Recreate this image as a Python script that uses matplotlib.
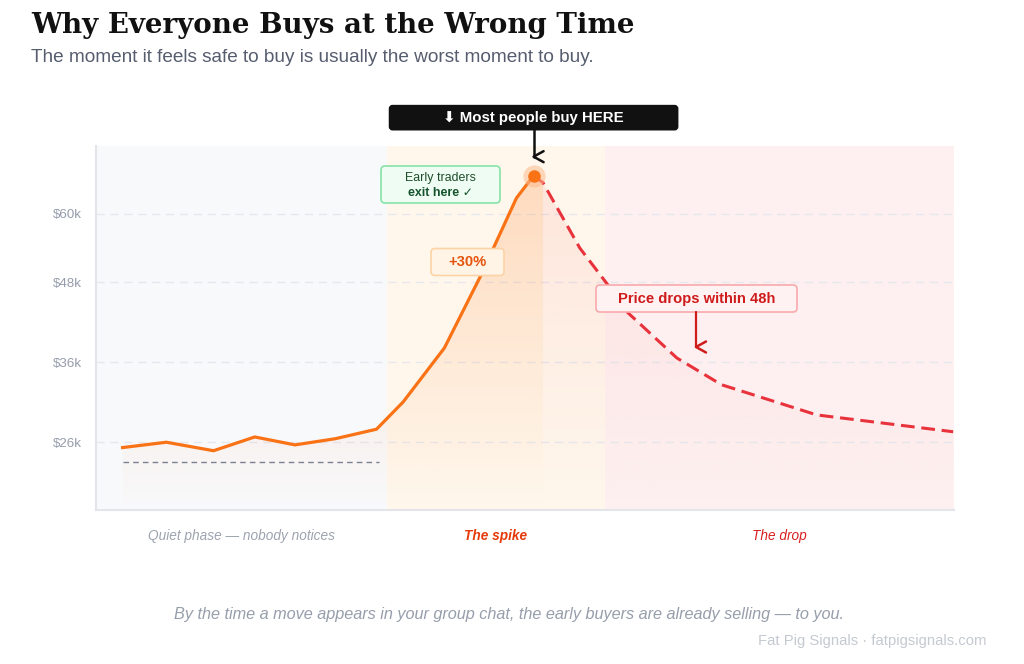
import numpy as np
import matplotlib
matplotlib.use("Agg")
import matplotlib.pyplot as plt
from matplotlib.patches import FancyBboxPatch, Polygon
from matplotlib.transforms import IdentityTransform
from matplotlib.colors import to_rgb

plt.rcParams['font.family'] = ['Liberation Sans', 'DejaVu Sans']

# time runs 0..100 across the chart, price in $k
rise_t = [3.1, 8.2, 13.7, 18.5, 23.2, 27.9, 32.7, 35.8, 40.6, 44.8, 49.0, 51.0]
rise_k = [25.4, 26.0, 25.05, 26.6, 25.7, 26.4, 27.5, 30.8, 38.0, 49.0, 63.0, 67.4]
drop_t = [51.0, 52.1, 56.4, 59.5, 62.0, 67.7, 72.9, 84.0, 99.9]
drop_k = [67.4, 66.0, 53.8, 47.9, 43.2, 36.6, 33.0, 29.2, 27.2]
base_t = [3.1, 33.0]
base_k = 23.85

phase_names = ['Quiet phase \u2014 nobody notices', 'The spike', 'The drop']
phase_edges = [0, 33.9, 59.3, 100]
yticks = [26, 36, 48, 60]
ytick_labels = ['$26k', '$36k', '$48k', '$60k']

W, H = 1024, 664
Y_MIN, Y_MAX = 19.0, 73.5
ORANGE = '#f97316'
RED = '#e8333c'

fig = plt.figure(figsize=(W / 100, H / 100), dpi=100)
ax = fig.add_axes([96 / W, 1 - 510 / H, (954 - 96) / W, (510 - 146) / H])
ax.set_yscale('function', functions=(lambda v: np.power(np.clip(v, 0, None), 0.4),
                                     lambda u: np.power(np.clip(u, 0, None), 2.5)))

# phase bands
band_cols = ['#f8f9fb', '#fff7ec', '#fef0f0']
for i in range(3):
    ax.axvspan(phase_edges[i], phase_edges[i + 1], color=band_cols[i], lw=0, zorder=0)


def gradient_under(t, k, color, a_top, a_bot, z):
    verts = [(t[0], Y_MIN)] + list(zip(t, k)) + [(t[-1], Y_MIN)]
    clip = Polygon(verts, closed=True, transform=ax.transData, fc='none', ec='none')
    ax.add_patch(clip)
    grad = np.zeros((256, 1, 4))
    grad[..., :3] = to_rgb(color)
    grad[..., 3] = np.linspace(a_bot, a_top, 256)[:, None]
    im = ax.imshow(grad, aspect='auto', extent=[0, 1, 0, 1], origin='lower',
                   transform=ax.transAxes, zorder=z, interpolation='bilinear')
    im.set_clip_path(clip)


gradient_under(rise_t + drop_t[1:2], rise_k + drop_k[1:2], '#fb8a3c', 0.28, 0.0, 1)
gradient_under(drop_t[1:], drop_k[1:], '#f87171', 0.14, 0.0, 1)

ax.plot(base_t, [base_k, base_k], color='#7b8190', lw=1, ls=(0, (4, 3)), zorder=2)
ax.plot(rise_t, rise_k, color=ORANGE, lw=2.3, solid_joinstyle='round', zorder=4)
ax.plot(drop_t, drop_k, color=RED, lw=2.2, ls=(0, (4.5, 2.2)), zorder=3)
ax.plot(rise_t[-1], rise_k[-1], 'o', ms=16, color='#fdba8c', alpha=0.55, mec='none', zorder=5)
ax.plot(rise_t[-1], rise_k[-1], 'o', ms=9, color=ORANGE, mec='none', zorder=6)

ax.set_xlim(0, 100)
ax.set_ylim(Y_MIN, Y_MAX)
ax.set_xticks([])
ax.set_yticks(yticks)
ax.set_yticklabels(ytick_labels)
ax.minorticks_off()
ax.tick_params(axis='y', length=0, pad=10, labelsize=9.6, labelcolor='#959cab')
ax.yaxis.grid(True, color='#e6e8ee', ls=(0, (6, 4)), lw=1)
ax.set_axisbelow(True)
for s in ['top', 'right']:
    ax.spines[s].set_visible(False)
for s in ['left', 'bottom']:
    ax.spines[s].set_color('#e3e5ea')
    ax.spines[s].set_linewidth(1.5)
    ax.spines[s].set_zorder(7)

# phase labels below the axis
label_styles = [dict(color='#9ca3af', weight='normal'),
                dict(color='#e63a0a', weight='bold'),
                dict(color='#d91f1f', weight='normal')]
for i, name in enumerate(phase_names):
    ax.text((phase_edges[i] + phase_edges[i + 1]) / 2, -0.083, name,
            transform=ax.get_xaxis_transform(), ha='center', va='baseline',
            style='italic', fontsize=9.8, **label_styles[i])

# --- annotations, in pixel units ---
T = IdentityTransform()
fig.canvas.draw()


def to_px(t, k):
    x, y = ax.transData.transform((t, k))
    return x, H - y


def box(cx, cy, w, h, fc, ec, r=4, lw=1.2):
    p = FancyBboxPatch((cx - w / 2, H - cy - h / 2), w, h,
                       boxstyle='round,pad=0,rounding_size=%g' % r,
                       fc=fc, ec=ec, lw=lw, transform=T, zorder=10)
    fig.add_artist(p)


def line(xs, ys, color, lw=1.6):
    fig.add_artist(plt.Line2D(xs, [H - y for y in ys], color=color, lw=lw,
                              transform=T, zorder=10, solid_capstyle='round'))


def chevron(x, y, color):
    # small open "<" head as drawn in the original
    line([x + 10, x, x + 10], [y - 5.5, y, y + 5.5], color, lw=1.8)


px_peak, py_peak = to_px(rise_t[-1], rise_k[-1])

# black callout
box(px_peak, py_peak - 58, 288, 24, '#111111', '#111111', r=3)
fig.text(px_peak, H - (py_peak - 58), '\u2b07 Most people buy HERE', transform=T,
         ha='center', va='center', color='white', weight='bold', fontsize=10.8, zorder=11)
line([px_peak, px_peak], [py_peak - 46, py_peak - 19], '#111111', lw=1.8)
chevron(px_peak, py_peak - 19, '#111111')

# early traders
bx, by = 440.5, 184.5
box(bx, by, 119, 37, '#effcf3', '#86e3a8', r=4)
fig.text(bx, H - by + 7, 'Early traders', transform=T, ha='center', va='center',
         color='#1e4d2b', fontsize=8.9, zorder=11)
fig.text(bx, H - by - 8, 'exit here \u2713', transform=T, ha='center', va='center',
         color='#14532d', fontsize=8.9, weight='bold', zorder=11)

# +30%
box(467.5, 262, 73, 27, '#fff4e6', '#fdd3a6', r=4)
fig.text(467.5, H - 262, '+30%', transform=T, ha='center', va='center',
         color='#e4540c', fontsize=10.6, weight='bold', zorder=11)

# price drops
box(696.5, 298.5, 201, 27, '#fff2f3', '#f8a9ad', r=4)
fig.text(696.5, H - 298.5, 'Price drops within 48h', transform=T, ha='center', va='center',
         color='#cf1b1b', fontsize=10.6, weight='bold', zorder=11)
line([696, 696], [312, 347], '#cf1b1b', lw=1.6)
chevron(696, 347, '#cf1b1b')

# titles and footer
fig.text(31, H - 33, 'Why Everyone Buys at the Wrong Time', transform=T,
         family='DejaVu Serif', weight='bold', fontsize=19.9, color='#111111')
fig.text(31, H - 62, 'The moment it feels safe to buy is usually the worst moment to buy.',
         transform=T, fontsize=13.7, color='#565d6e')
fig.text(509, H - 619, 'By the time a move appears in your group chat, the early buyers '
         'are already selling \u2014 to you.', transform=T, ha='center',
         style='italic', fontsize=11.7, color='#979eab')
fig.text(987, H - 645, 'Fat Pig Signals \u00b7 fatpigsignals.com', transform=T, ha='right',
         fontsize=10.7, color='#c5c9d0')

fig.savefig('out.png', dpi=100)
